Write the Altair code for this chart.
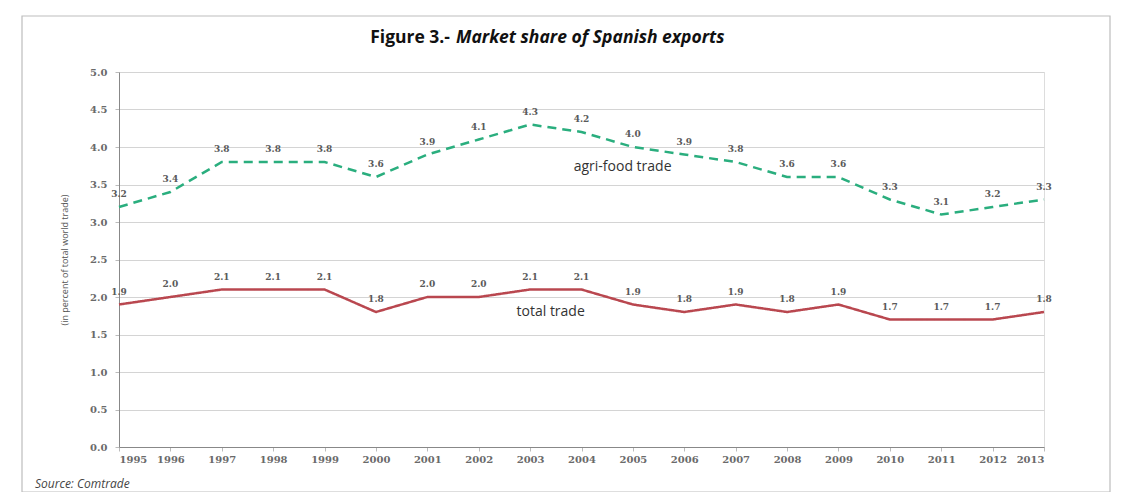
import altair as alt
import pandas as pd

years = list(range(1995, 2014))
agri_food = [3.2, 3.4, 3.8, 3.8, 3.8, 3.6, 3.9, 4.1, 4.3, 4.2, 4.0, 3.9, 3.8, 3.6, 3.6, 3.3, 3.1, 3.2, 3.3]
total = [1.9, 2.0, 2.1, 2.1, 2.1, 1.8, 2.0, 2.0, 2.1, 2.1, 1.9, 1.8, 1.9, 1.8, 1.9, 1.7, 1.7, 1.7, 1.8]
series_names = ["agri-food trade", "total trade"]
series_label_year = [2004.8, 2003.4]
series_label_value = [3.73, 1.8]
y_ticks = [0.0, 0.5, 1.0, 1.5, 2.0, 2.5, 3.0, 3.5, 4.0, 4.5, 5.0]

rows = []
for i, yr in enumerate(years):
    rows.append({"year": yr, "value": agri_food[i], "series": series_names[0]})
    rows.append({"year": yr, "value": total[i], "series": series_names[1]})
df = pd.DataFrame(rows)
lab = pd.DataFrame({"year": series_label_year, "value": series_label_value, "name": series_names})
one = pd.DataFrame({"a": [0]})

LABEL_FONT = "DejaVu Serif"
SANS = "Open Sans"

x = alt.X("year:Q", scale=alt.Scale(domain=[1995, 2013], nice=False, zero=False),
          axis=alt.Axis(values=years, format="d", title=None, grid=False,
                        labelFont=LABEL_FONT, labelFontSize=10, labelFontWeight="bold",
                        labelColor="#6a6a6a", domainColor="#888", tickColor="#bbb",
                        tickSize=4, labelPadding=3))
y = alt.Y("value:Q", scale=alt.Scale(domain=[0, 5], nice=False),
          axis=alt.Axis(values=y_ticks, format=".1f", title="(in percent of total world trade)",
                        titleFont=SANS, titleFontSize=9, titleFontWeight="normal", titleColor="#555",
                        titlePadding=20, labelFont=LABEL_FONT, labelFontSize=10,
                        labelFontWeight="bold", labelColor="#6a6a6a", domainColor="#888",
                        tickColor="#bbb", tickSize=4, labelPadding=8, labelOverlap=False,
                        gridColor="#d4d4d4", gridWidth=1))

color = alt.Color("series:N", scale=alt.Scale(domain=series_names, range=["#2aae7e", "#b9474f"]), legend=None)
dash = alt.StrokeDash("series:N", scale=alt.Scale(domain=series_names, range=[[9, 6], [1, 0]]), legend=None)

lines = alt.Chart(df).mark_line(strokeWidth=2.5).encode(x=x, y=y, color=color, strokeDash=dash)

labels = alt.Chart(df).mark_text(font=LABEL_FONT, fontSize=9, fontWeight="bold", color="#5a5a5a", dy=-13).encode(
    x=x, y=y, text=alt.Text("value:Q", format=".1f"))

series_text = alt.Chart(lab).mark_text(font=SANS, fontSize=14, color="#333").encode(
    x=x, y=y, text="name:N")

border = alt.Chart(one).mark_rect(fill=None, stroke="#bdbdbd", strokeWidth=1.2).encode(
    x=alt.value(-97), x2=alt.value(991), y=alt.value(-56), y2=alt.value(420))

title_a = alt.Chart(one).mark_text(font=SANS, fontSize=17.5, fontWeight="bold", color="#111", align="right").encode(
    x=alt.value(331), y=alt.value(-34), text=alt.value("Figure 3.-"))
title_b = alt.Chart(one).mark_text(font=SANS, fontSize=17.5, fontWeight="bold", fontStyle="italic", color="#111", align="left").encode(
    x=alt.value(337), y=alt.value(-34), text=alt.value("Market share of Spanish exports"))
source = alt.Chart(one).mark_text(font=SANS, fontSize=12, fontStyle="italic", color="#444", align="left").encode(
    x=alt.value(-84), y=alt.value(412), text=alt.value("Source: Comtrade"))

chart = alt.layer(border, lines, labels, series_text, title_a, title_b, source).properties(
    width=925, height=375,
    padding={"left": 111, "top": 64, "right": 68, "bottom": 45},
    autosize=alt.AutoSizeParams(type="none"),
).configure_view(stroke="#bbb", strokeWidth=1).configure(background="white")

chart.save("out.html", embed_options={"renderer": "svg", "actions": False})
